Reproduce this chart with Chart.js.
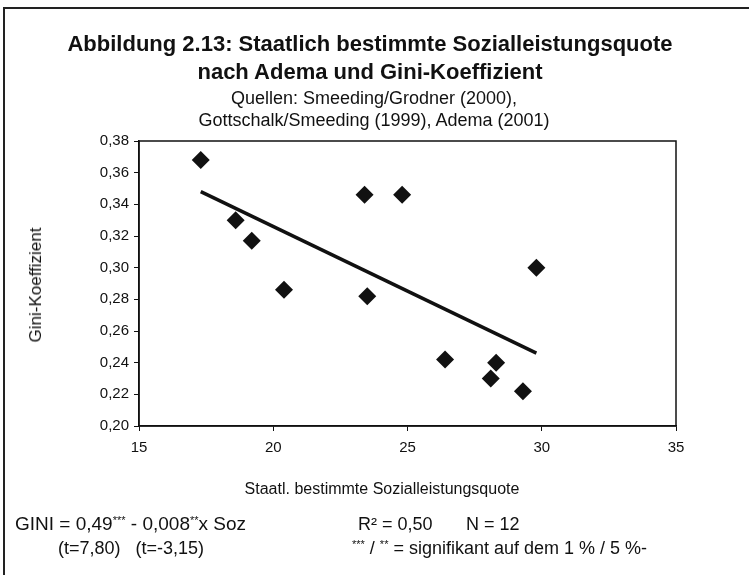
<!DOCTYPE html>
<html>
<head>
<meta charset="utf-8">
<script src="https://cdn.jsdelivr.net/npm/chart.js@4"></script>
<style>
  body { margin: 0; background: #fff; font-family: 'Liberation Sans', Arial, sans-serif; color: #111; }
  #wrap { position: relative; width: 749px; height: 575px; overflow: hidden; }
  #frame { position: absolute; left: 3px; top: 7px; width: 800px; height: 600px; border: 2px solid #222; }
  canvas { position: absolute; left: 0; top: 0; }
  .t { position: absolute; white-space: nowrap; transform: translate(-50%, -50%); }
  .b { font-weight: bold; font-size: 22px; }
  .s { font-size: 18px; }
  .a { font-size: 16px; }
  .l { position: absolute; white-space: nowrap; font-size: 18px; transform: translateY(-50%); }
  sup { font-size: 11px; vertical-align: 6px; }
</style>
</head>
<body>
<div id="wrap">
  <div id="frame"></div>
  <canvas id="chart" width="749" height="575"></canvas>
  <div class="t b" style="left:370px;top:44px">Abbildung 2.13: Staatlich bestimmte Sozialleistungsquote</div>
  <div class="t b" style="left:370px;top:72px">nach Adema und Gini-Koeffizient</div>
  <div class="t s" style="left:374px;top:98px">Quellen: Smeeding/Grodner (2000),</div>
  <div class="t s" style="left:374px;top:120px">Gottschalk/Smeeding (1999), Adema (2001)</div>
  <div class="t" style="font-size:17px;left:36px;top:285px;transform:translate(-50%,-50%) rotate(-90deg)">Gini-Koeffizient</div>
  <div class="t a" style="left:382px;top:489px">Staatl. bestimmte Sozialleistungsquote</div>
  <div class="l" style="left:15px;top:524px;font-size:19px">GINI = 0,49<sup>***</sup> - 0,008<sup>**</sup>x Soz</div>
  <div class="l" style="left:358px;top:524px">R² = 0,50</div>
  <div class="l" style="left:466px;top:524px">N = 12</div>
  <div class="l" style="left:58px;top:548px">(t=7,80)&nbsp;&nbsp;&nbsp;(t=-3,15)</div>
  <div class="l" style="left:352px;top:548px"><sup>***</sup> / <sup>**</sup> = signifikant auf dem 1 % / 5 %-</div>
</div>
<script>
// Staatlich bestimmte Sozialleistungsquote (x) und Gini-Koeffizient (y), 12 Länder
const sozQuote = [17.3, 18.6, 19.2, 20.4, 23.4, 23.5, 24.8, 26.4, 28.3, 28.1, 29.3, 29.8];
const gini = [0.368, 0.330, 0.317, 0.286, 0.346, 0.282, 0.346, 0.242, 0.240, 0.230, 0.222, 0.300];

// Regressionsgerade, Endpunkte aus der Abbildung
const trendX = [17.3, 29.8];
const trendY = [0.348, 0.246];

const xTicks = [15, 20, 25, 30, 35];
const yTicks = [0.20, 0.22, 0.24, 0.26, 0.28, 0.30, 0.32, 0.34, 0.36, 0.38];

const plotFrame = {
  id: 'plotFrame',
  afterDatasetsDraw(chart) {
    const { ctx, chartArea: a } = chart;
    ctx.save();
    ctx.strokeStyle = '#111';
    ctx.lineWidth = 1.5;
    ctx.strokeRect(a.left, a.top, a.right - a.left, a.bottom - a.top);
    ctx.restore();
  }
};

const axisFont = { family: "'Liberation Sans', Arial, sans-serif", size: 15 };

new Chart(document.getElementById('chart'), {
  type: 'scatter',
  data: {
    datasets: [
      {
        label: 'Länder',
        data: sozQuote.map((x, i) => ({ x, y: gini[i] })),
        pointStyle: 'rectRot',
        pointRadius: 9,
        pointHoverRadius: 9,
        backgroundColor: '#111',
        borderWidth: 0
      },
      {
        label: 'Regression',
        data: trendX.map((x, i) => ({ x, y: trendY[i] })),
        showLine: true,
        pointRadius: 0,
        borderColor: '#111',
        borderWidth: 3.5
      }
    ]
  },
  options: {
    responsive: false,
    animation: false,
    layout: { padding: { left: 79, top: 141, right: 73, bottom: 109 } },
    plugins: { legend: { display: false }, tooltip: { enabled: false } },
    scales: {
      x: {
        type: 'linear',
        min: 15, max: 35,
        afterBuildTicks: s => { s.ticks = xTicks.map(v => ({ value: v })); },
        afterFit: s => { s.height = 40; },
        ticks: { color: '#111', font: axisFont, padding: 8 },
        grid: { drawOnChartArea: false, color: '#111', tickLength: 5 },
        border: { color: '#111', width: 1.5 }
      },
      y: {
        min: 0.2, max: 0.38,
        afterBuildTicks: s => { s.ticks = yTicks.map(v => ({ value: v })); },
        afterFit: s => { s.width = 60; },
        ticks: {
          color: '#111', font: axisFont, padding: 5,
          callback: v => v.toFixed(2).replace('.', ',')
        },
        grid: { drawOnChartArea: false, color: '#111', tickLength: 5 },
        border: { color: '#111', width: 1.5 }
      }
    }
  },
  plugins: [plotFrame]
});
</script>
</body>
</html>
